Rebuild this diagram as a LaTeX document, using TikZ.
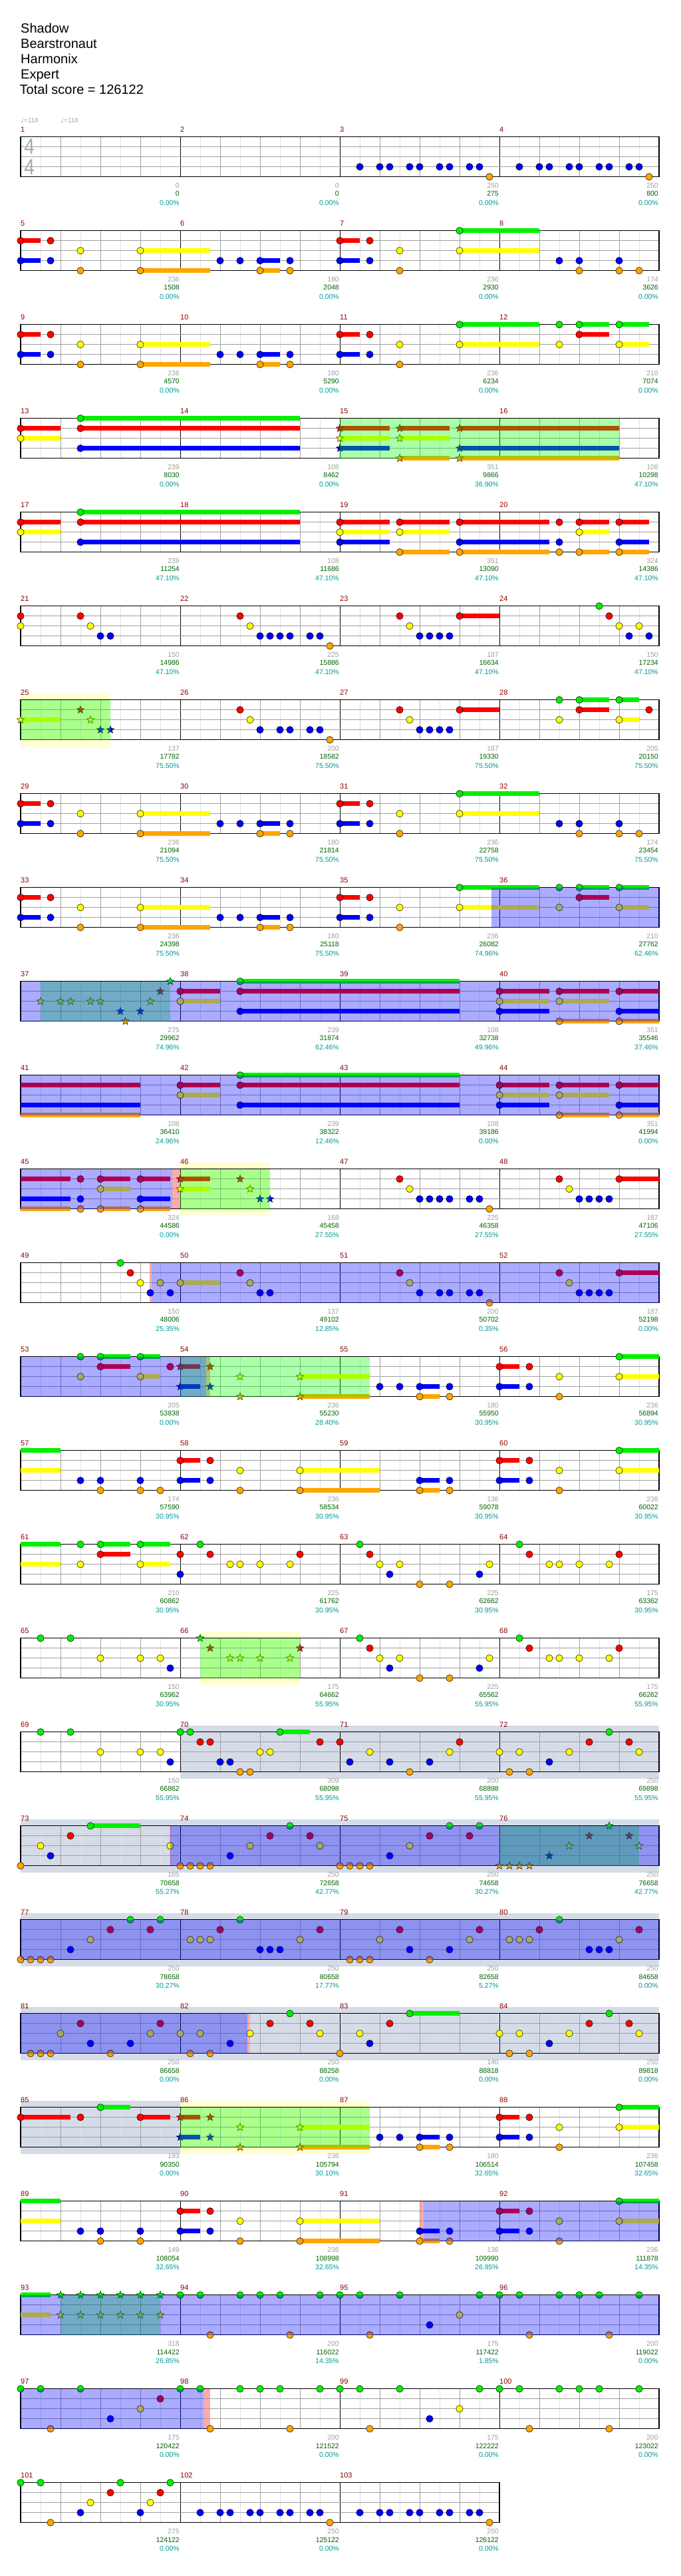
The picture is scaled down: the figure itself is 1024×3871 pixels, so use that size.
\documentclass[tikz,border=0pt]{standalone}
\usepackage{fontspec}
\setmainfont{Liberation Sans}
\newfontfamily\symfont{DejaVu Sans}
\usetikzlibrary{shapes.geometric}
\definecolor{lane0}{RGB}{0,240,0}
\definecolor{lane1}{RGB}{255,0,0}
\definecolor{lane2}{RGB}{255,255,0}
\definecolor{lane3}{RGB}{0,0,255}
\definecolor{lane4}{RGB}{255,165,0}
\definecolor{gridmid}{RGB}{160,160,160}
\definecolor{gridlight}{RGB}{225,225,225}
\definecolor{cmeas}{RGB}{139,0,0}
\definecolor{cgray}{RGB}{160,160,160}
\definecolor{cgreen}{RGB}{0,100,0}
\definecolor{cteal}{RGB}{0,153,153}
\definecolor{solobg}{RGB}{213,220,232}
\definecolor{spbg}{RGB}{255,255,208}
\definecolor{pinkbar}{RGB}{255,170,170}
\definecolor{tempogray}{RGB}{170,170,170}

% staff of #1 measures, first measure number #2
\newcommand\rowgrid[2]{%
  \foreach \k in {1,...,#1}{
    \pgfmathtruncatemacro\mnum{#2+\k-1}
    \foreach \b in {2,6,10,14} \draw[eighthline] ({16*(\k-1)+\b},0) -- ++(0,4);
    \foreach \b in {4,8,12} \draw[beatline] ({16*(\k-1)+\b},0) -- ++(0,4);
    \draw[barline] ({16*(\k-1)},0) -- ++(0,4);
    \node[measno] (m\mnum) at ({16*(\k-1)},-0.75) {\mnum};
  }
  \foreach \l in {1,2,3} \draw[laneline] (0,\l) -- ({16*#1},\l);
  \draw[staffframe] (0,0) rectangle ({16*#1},4);
}
\newcommand\susts[1]{\foreach \t/\l/\e in {#1} \fill[fill=lane\l] ([yshift=3.4pt]\t,\l) rectangle ([yshift=-3.4pt]\e,\l);}
\newcommand\gems[1]{\foreach \t/\l in {#1} \draw[gemline, fill=lane\l] (\t,\l) circle[radius=5.2pt];}
\newcommand\starnotes[1]{\foreach \t/\l in {#1} \node[spstar, fill=lane\l] at (\t,\l) {};}
\newcommand\odzone[2]{\fill[odfill] (#1,0) rectangle (#2,4);}
\newcommand\spzone[2]{\fill[spfill] (#1,0) rectangle (#2,4);}
\newcommand\pinkzone[2]{\fill[pinkfill] (#1,0) rectangle (#2,4);}
\newcommand\bandzone[3]{\fill[#3] (#1,-0.67) rectangle (#2,4.71);}
\newcommand\scores[1]{\foreach \g/\s/\p [count=\k] in {#1}{
    \node[score, text=cgray] at ({16*\k},4.85) {\g};
    \node[score, text=cgreen] at ({16*\k},5.71) {\s};
    \node[score, text=cteal] at ({16*\k},6.6) {\p\%};
  }}
% repeated figures
\newcommand\riffverse{%
  \susts{0/1/2,0/3/2,12/2/19,12/4/19,24/3/26,24/4/26,32/1/34,32/3/34}
  \gems{0/1,3/1,0/3,3/3,6/2,6/4,12/2,12/4,20/3,22/3,24/3,24/4,27/3,27/4,32/1,35/1,32/3,35/3,38/2,38/4}}
\newcommand\taileight{%
  \susts{44/0/52,44/2/52}
  \gems{44/0,44/2,54/3,56/3,56/4,60/3,60/4,62/4}}
\newcommand\tailtwelve{%
  \susts{44/0/52,44/2/52,56/0/59,56/1/59,60/0/63,60/2/63}
  \gems{44/0,44/2,54/0,54/2,56/0,56/1,60/0,60/2}}
\newcommand\chorusend{%
  \susts{16/1/20,16/2/20,22/0/44,22/1/44,22/3/44,48/1/53,54/1/59,60/1/64,48/2/53,54/2/59,48/3/53,60/3/64,54/4/59,60/4/64}
  \gems{16/1,16/2,22/0,22/1,22/3,48/1,54/1,60/1,48/2,54/2,48/3,60/3,54/4,60/4}}
\newcommand\bridgeend{%
  \susts{40/3/42,40/4/42,48/1/50,48/3/50,60/2/64,60/0/64}
  \gems{40/3,43/3,40/4,43/4,48/1,51/1,48/3,51/3,54/2,60/2,54/4,60/0}}

\begin{document}
\begin{tikzpicture}[x=1pt, y=-1pt,
    rowat/.style={shift={(31,{205.7+141*(#1-1)})}, x=15pt, y=-15pt},
    eighthline/.style={draw=gridlight, line width=0.8pt},
    beatline/.style={draw=gridmid, line width=0.8pt},
    barline/.style={draw=black, line width=0.8pt},
    laneline/.style={draw=gridmid, line width=1pt},
    staffframe/.style={draw=black, line width=1.2pt},
    gemline/.style={draw=black, line width=0.5pt},
    spstar/.style={star, star points=5, star point ratio=2.3, minimum size=12pt, inner sep=0pt, draw=black, line width=0.4pt},
    measno/.style={anchor=west, inner sep=0pt, text=cmeas, font=\fontsize{11}{11}\selectfont},
    score/.style={anchor=east, inner sep=0pt, xshift=-1pt, font=\fontsize{10.5}{10.5}\selectfont},
    odfill/.style={fill=blue, fill opacity=0.33},
    spfill/.style={fill=green, fill opacity=0.33},
    pinkfill/.style={fill=pinkbar},
    solo/.style={fill=solobg},
    spband/.style={fill=spbg},
    title/.style={anchor=base west, inner sep=0pt, font=\fontsize{20}{20}\selectfont},
    tempo/.style={anchor=west, inner sep=0pt, text=tempogray, font=\fontsize{10}{10}\selectfont},
    timesig/.style={inner sep=0pt, text=tempogray, xscale=0.85, font=\fontsize{33}{33}\selectfont}
  ]
  \fill[white] (0,0) rectangle (1024,3871);
  \useasboundingbox (0,0) rectangle (1024,3871);

  \node[title] (song) at (31,49.3) {Shadow};
  \node[title] (artist) at (31,72.4) {Bearstronaut};
  \node[title] (charter) at (31,95.5) {Harmonix};
  \node[title] (level) at (31,118.6) {Expert};
  \node[title] (total) at (29.5,141.7) {Total score = 126122};

  % measures 1-4
  \begin{scope}[rowat=1]
    \rowgrid{4}{1}
    \node[tempo] (bpm1) at (0,-1.65) {{\symfont ♩}=118};
    \node[tempo] (bpm2) at (4,-1.65) {{\symfont ♩}=118};
    \node[timesig] (tsnum) at (0.87,0.99) {4};
    \node[timesig] (tsden) at (0.87,3.02) {4};
    \gems{34/3,36/3,37/3,39/3,40/3,42/3,43/3,45/3,46/3,47/4,50/3,52/3,53/3,55/3,56/3,58/3,59/3,61/3,62/3,63/4}
    \scores{0/0/0.00,0/0/0.00,250/275/0.00,250/800/0.00}
  \end{scope}

  % measures 5-8
  \begin{scope}[rowat=2]
    \rowgrid{4}{5}
    \riffverse \taileight
    \scores{236/1508/0.00,180/2048/0.00,236/2930/0.00,174/3626/0.00}
  \end{scope}

  % measures 9-12
  \begin{scope}[rowat=3]
    \rowgrid{4}{9}
    \riffverse \tailtwelve
    \scores{236/4570/0.00,180/5290/0.00,236/6234/0.00,210/7074/0.00}
  \end{scope}

  % measures 13-16
  \begin{scope}[rowat=4]
    \rowgrid{4}{13}
    \susts{0/1/4,0/2/4,6/0/28,6/1/28,6/3/28,32/1/37,38/1/43,44/1/60,32/2/37,38/2/43,32/3/37,44/3/60,38/4/43,44/4/60}
    \gems{0/1,0/2,6/0,6/1,6/3}
    \starnotes{32/1,38/1,44/1,32/2,38/2,32/3,44/3,38/4,44/4}
    \spzone{32}{60}
    \scores{239/8030/0.00,108/8462/0.00,351/9866/36.90,108/10298/47.10}
  \end{scope}

  % measures 17-20
  \begin{scope}[rowat=5]
    \rowgrid{4}{17}
    \susts{0/1/4,0/2/4,6/0/28,6/1/28,6/3/28,32/1/37,38/1/43,44/1/53,56/1/59,60/1/63,32/2/37,38/2/43,56/2/59,32/3/37,44/3/53,60/3/63,38/4/43,44/4/53,56/4/59,60/4/63}
    \gems{0/1,0/2,6/0,6/1,6/3,32/1,38/1,44/1,54/1,56/1,60/1,32/2,38/2,56/2,32/3,44/3,54/3,60/3,38/4,44/4,54/4,56/4,60/4}
    \scores{239/11254/47.10,108/11686/47.10,351/13090/47.10,324/14386/47.10}
  \end{scope}

  % measures 21-24
  \begin{scope}[rowat=6]
    \rowgrid{4}{21}
    \susts{44/1/48}
    \gems{0/1,6/1,22/1,38/1,44/1,59/1,0/2,7/2,23/2,39/2,60/2,62/2,8/3,9/3,24/3,25/3,26/3,27/3,29/3,30/3,40/3,41/3,42/3,43/3,61/3,63/3,31/4,58/0}
    \scores{150/14986/47.10,225/15886/47.10,187/16634/47.10,150/17234/47.10}
  \end{scope}

  % measures 25-28
  \begin{scope}[rowat=7]
    \bandzone{0}{9}{spband}
    \rowgrid{4}{25}
    \susts{0/2/4,44/1/48,56/0/59,60/0/62,56/1/59,60/2/62}
    \starnotes{0/2,6/1,7/2,8/3,9/3}
    \gems{22/1,23/2,24/3,26/3,27/3,29/3,30/3,31/4,38/1,44/1,39/2,40/3,41/3,42/3,43/3,54/0,56/0,60/0,56/1,63/1,54/2,60/2}
    \spzone{0}{9}
    \scores{137/17782/75.50,200/18582/75.50,187/19330/75.50,205/20150/75.50}
  \end{scope}

  % measures 29-32
  \begin{scope}[rowat=8]
    \rowgrid{4}{29}
    \riffverse \taileight
    \scores{236/21094/75.50,180/21814/75.50,236/22758/75.50,174/23454/75.50}
  \end{scope}

  % measures 33-36
  \begin{scope}[rowat=9]
    \rowgrid{4}{33}
    \riffverse \tailtwelve
    \odzone{47.2}{64}
    \scores{236/24398/75.50,180/25118/75.50,236/26082/74.96,210/27762/62.46}
  \end{scope}

  % measures 37-40
  \begin{scope}[rowat=10]
    \rowgrid{4}{37}
    \starnotes{2/2,4/2,5/2,7/2,8/2,10/3,10.5/4,12/3,13/2,14/1,15/0}
    \chorusend
    \spzone{2}{15}
    \odzone{0}{64}
    \scores{275/29962/74.96,239/31874/62.46,108/32738/49.96,351/35546/37.46}
  \end{scope}

  % measures 41-44
  \begin{scope}[rowat=11]
    \rowgrid{4}{41}
    \susts{0/1/12,0/3/12,0/4/12}
    \chorusend
    \odzone{0}{64}
    \scores{108/36410/24.96,239/38322/12.46,108/39186/0.00,351/41994/0.00}
  \end{scope}

  % measures 45-48
  \begin{scope}[rowat=12]
    \bandzone{16}{25}{spband}
    \pinkzone{15.2}{16}
    \rowgrid{4}{45}
    \susts{0/1/5,0/3/5,0/4/5,8/1/11,8/2/11,8/4/11,12/1/15,12/3/15,12/4/15,16/1/19,16/2/19,60/1/64}
    \gems{6/1,6/3,6/4,8/1,8/2,8/4,12/1,12/3,12/4,38/1,39/2,40/3,41/3,42/3,43/3,45/3,46/3,47/4,54/1,60/1,55/2,56/3,57/3,58/3,59/3}
    \starnotes{16/1,16/2,22/1,23/2,24/3,25/3}
    \spzone{16}{25}
    \odzone{0}{15.2}
    \scores{324/44586/0.00,168/45458/27.55,225/46358/27.55,187/47106/27.55}
  \end{scope}

  % measures 49-52
  \begin{scope}[rowat=13]
    \pinkzone{12.9}{13.1}
    \rowgrid{4}{49}
    \susts{16/2/20,60/1/64}
    \gems{10/0,11/1,12/2,13/3,14/2,15/3,16/2,22/1,23/2,24/3,25/3,38/1,39/2,40/3,42/3,43/3,45/3,46/3,47/4,54/1,55/2,56/3,57/3,58/3,59/3,60/1}
    \odzone{13.1}{64}
    \scores{150/48006/25.35,137/49102/12.85,200/50702/0.35,187/52198/0.00}
  \end{scope}

  % measures 53-56
  \begin{scope}[rowat=14]
    \pinkzone{18.6}{19}
    \rowgrid{4}{53}
    \susts{8/0/11,12/0/14,8/1/11,12/2/14,16/1/18,16/3/18,28/2/35,28/4/35}
    \gems{6/0,8/0,12/0,8/1,15/1,6/2,12/2,36/3,38/3}
    \starnotes{16/1,19/1,16/3,19/3,22/2,28/2,22/4,28/4}
    \bridgeend
    \spzone{16}{35}
    \odzone{0}{18.6}
    \scores{205/53838/0.00,236/55230/28.40,180/55950/30.95,236/56894/30.95}
  \end{scope}

  % measures 57-60
  \begin{scope}[rowat=15]
    \rowgrid{4}{57}
    \susts{0/0/4,0/2/4,16/1/18,16/3/18,28/2/36,28/4/36}
    \gems{6/3,8/3,12/3,8/4,12/4,14/4,16/1,19/1,16/3,19/3,22/2,28/2,22/4,28/4}
    \bridgeend
    \scores{174/57590/30.95,236/58534/30.95,136/59078/30.95,236/60022/30.95}
  \end{scope}

  % measures 61-64
  \begin{scope}[rowat=16]
    \rowgrid{4}{61}
    \susts{0/0/4,0/2/4,8/0/11,12/0/15,8/1/11,12/2/15}
    \gems{6/0,8/0,12/0,8/1,6/2,12/2,16/1,18/0,19/1,21/2,22/2,24/2,27/2,28/1,16/3,34/0,35/1,36/2,38/2,37/3,40/4,43/4,46/3,47/2,50/0,51/1,53/2,54/2,56/2,59/2,60/1}
    \scores{210/60862/30.95,225/61762/30.95,225/62662/30.95,175/63362/30.95}
  \end{scope}

  % measures 65-68
  \begin{scope}[rowat=17]
    \bandzone{18}{28}{spband}
    \rowgrid{4}{65}
    \gems{2/0,5/0,8/2,12/2,14/2,15/3,34/0,35/1,36/2,38/2,37/3,40/4,43/4,46/3,47/2,50/0,51/1,53/2,54/2,56/2,59/2,60/1}
    \starnotes{18/0,19/1,21/2,22/2,24/2,27/2,28/1}
    \spzone{18}{28}
    \scores{150/63962/30.95,175/64662/55.95,225/65562/55.95,175/66262/55.95}
  \end{scope}

  % measures 69-72
  \begin{scope}[rowat=18]
    \bandzone{16}{64}{solo}
    \rowgrid{4}{69}
    \susts{26/0/29}
    \gems{2/0,5/0,8/2,12/2,14/2,15/3,16/0,17/0,18/1,19/1,20/3,21/3,22/4,23/4,24/2,25/2,26/0,30/1,32/1,33/3,35/2,37/3,39/4,41/3,43/2,44/1,48/2,49/4,50/2,51/4,53/3,55/2,57/1,59/0,61/1,62/2}
    \scores{150/66862/55.95,309/68098/55.95,200/68898/55.95,250/69898/55.95}
  \end{scope}

  % measures 73-76
  \begin{scope}[rowat=19]
    \bandzone{0}{64}{solo}
    \pinkzone{14.92}{15.05}
    \rowgrid{4}{73}
    \susts{7/0/12}
    \gems{0/4,2/2,3/3,5/1,7/0,15/2,16/4,17/4,18/4,19/4,21/3,23/2,25/1,27/0,29/1,30/2,32/4,33/4,34/4,35/4,37/3,39/2,41/1,43/0,45/1,46/0}
    \starnotes{48/4,49/4,50/4,51/4,53/3,55/2,57/1,59/0,61/1,62/2}
    \spzone{48}{62}
    \odzone{15}{64}
    \scores{165/70658/55.27,250/72658/42.77,250/74658/30.27,250/76658/42.77}
  \end{scope}

  % measures 77-80
  \begin{scope}[rowat=20]
    \bandzone{0}{64}{solo}
    \rowgrid{4}{77}
    \gems{0/4,1/4,2/4,3/4,5/3,7/2,9/1,11/0,13/1,14/0,17/2,18/2,19/2,20/1,22/0,24/3,25/3,26/3,28/2,30/1,33/4,34/4,35/4,36/2,38/1,39/3,41/4,43/3,45/2,46/1,49/2,50/2,51/2,52/1,54/0,57/3,58/3,59/3,60/2,62/1}
    \odzone{0}{64}
    \scores{250/78658/30.27,250/80658/17.77,250/82658/5.27,250/84658/0.00}
  \end{scope}

  % measures 81-84
  \begin{scope}[rowat=21]
    \bandzone{0}{64}{solo}
    \pinkzone{22.7}{23}
    \rowgrid{4}{81}
    \susts{39/0/44}
    \gems{1/4,2/4,3/4,4/2,6/1,7/3,9/4,11/3,13/2,14/1,16/2,17/4,18/2,19/4,21/3,23/2,25/1,27/0,29/1,30/2,32/4,34/2,35/3,37/1,39/0,48/2,49/4,50/2,51/4,53/3,55/2,57/1,59/0,61/1,62/2}
    \odzone{0}{22.7}
    \scores{250/86658/0.00,250/88258/0.00,140/88818/0.00,250/89818/0.00}
  \end{scope}

  % measures 85-88
  \begin{scope}[rowat=22]
    \bandzone{0}{16}{solo}
    \bandzone{16}{35}{spband}
    \rowgrid{4}{85}
    \susts{0/1/5,8/0/11,12/1/15,16/1/18,16/3/18,28/2/35,28/4/35}
    \gems{0/1,6/1,8/0,12/1,36/3,38/3}
    \starnotes{16/1,19/1,16/3,19/3,22/2,28/2,22/4,28/4}
    \bridgeend
    \spzone{16}{35}
    \scores{193/90350/0.00,236/105794/30.10,180/106514/32.65,236/107458/32.65}
  \end{scope}

  % measures 89-92
  \begin{scope}[rowat=23]
    \pinkzone{40}{40.4}
    \rowgrid{4}{89}
    \susts{0/0/4,0/2/4,16/1/18,16/3/18,28/2/36,28/4/36}
    \gems{6/3,8/3,12/3,8/4,12/4,16/1,19/1,16/3,19/3,22/2,28/2,22/4,28/4}
    \bridgeend
    \odzone{40.4}{64}
    \scores{149/108054/32.65,236/108998/32.65,136/109990/26.85,236/111878/14.35}
  \end{scope}

  % measures 93-96
  \begin{scope}[rowat=24]
    \rowgrid{4}{93}
    \susts{0/0/3,0/2/3}
    \starnotes{4/0,6/0,8/0,10/0,12/0,14/0,4/2,6/2,8/2,10/2,12/2,14/2}
    \gems{16/0,18/0,22/0,24/0,26/0,30/0,32/0,34/0,38/0,46/0,48/0,50/0,54/0,56/0,58/0,62/0,19/4,27/4,35/4,51/4,59/4,41/3,44/2}
    \spzone{4}{14}
    \odzone{0}{64}
    \scores{318/114422/26.85,200/116022/14.35,175/117422/1.85,200/119022/0.00}
  \end{scope}

  % measures 97-100
  \begin{scope}[rowat=25]
    \pinkzone{18.35}{19}
    \rowgrid{4}{97}
    \gems{0/0,2/0,6/0,16/0,18/0,3/4,9/3,12/2,14/1,19/4,22/0,24/0,26/0,30/0,32/0,34/0,38/0,46/0,48/0,50/0,54/0,56/0,58/0,62/0,27/4,35/4,51/4,59/4,41/3,44/2}
    \odzone{0}{18.35}
    \scores{175/120422/0.00,200/121522/0.00,175/122222/0.00,200/123022/0.00}
  \end{scope}

  % measures 101-103
  \begin{scope}[rowat=26]
    \rowgrid{3}{101}
    \gems{0/0,2/0,10/0,15/0,3/4,6/3,12/3,7/2,13/2,9/1,14/1,18/3,20/3,21/3,23/3,24/3,26/3,27/3,29/3,30/3,31/4,34/3,36/3,37/3,39/3,40/3,42/3,43/3,45/3,46/3,47/4}
    \scores{275/124122/0.00,250/125122/0.00,250/126122/0.00}
  \end{scope}
\end{tikzpicture}
\end{document}
